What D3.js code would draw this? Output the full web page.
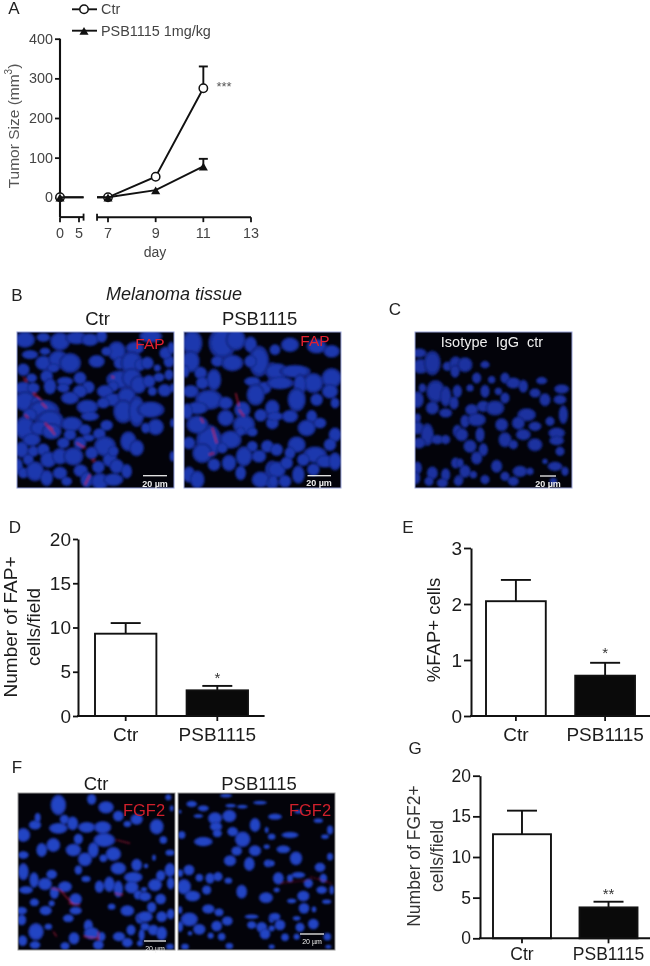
<!DOCTYPE html>
<html><head><meta charset="utf-8">
<script src="https://cdn.jsdelivr.net/npm/d3@7/dist/d3.min.js"></script>
<style>html,body{margin:0;padding:0;background:#fff}svg{display:block;filter:blur(0.3px)}text{font-family:"Liberation Sans",Arial,sans-serif}</style>
</head><body><svg id="c" width="650" height="966"></svg>
<script>
// ---- chart values ----
const days=[0,7,9,11];
const ctrSize=[0,0,52,275];
const psbSize=[0,0,18,78];
const ctrSizeErr=[null,null,null,330];
const psbSizeErr=[null,null,null,97];
const groups=["Ctr","PSB1115"];
const fapCount=[9.3,2.9], fapCountTop=[10.5,3.4];
const fapPct=[2.05,0.72], fapPctTop=[2.43,0.95];
const fgfCount=[12.8,3.8], fgfCountTop=[15.7,4.5];

const b1a=[[45,35,22,18],[100,28,15,10],[150,40,22,20],[200,30,25,14],[240,35,20,14],[275,25,12,14],[320,70,20,22],[290,70,12,10],[375,60,20,14],[40,125,14,14],[105,70,12,8],[60,80,18,10],[100,105,18,16],[145,95,22,20],[180,105,24,22],[130,120,14,10],[260,100,18,14],[330,105,14,14],[365,105,24,26],[390,110,12,14],[330,155,30,20],[365,150,22,22],[385,170,18,20],[310,175,12,12],[110,145,14,14],[65,150,12,10],[40,180,20,14],[70,180,14,12],[120,175,14,18],[165,160,18,10],[210,150,14,14],[235,178,14,14],[210,190,16,14],[160,180,14,10],[180,210,20,14],[45,220,24,22],[80,225,14,14],[232,237,24,16],[285,190,18,14],[310,215,22,14],[280,225,14,12],[350,205,20,20],[340,250,22,26],[380,250,18,34],[240,265,20,10],[100,250,35,25],[120,280,30,25],[60,260,16,14],[45,300,22,26],[90,300,22,16],[185,288,24,16],[125,310,22,18],[225,305,14,12],[268,317,14,12],[290,292,14,12],[235,330,14,8],[355,340,18,22],[380,360,16,18],[285,355,24,22],[35,365,15,18],[70,370,12,12],[100,365,14,14],[65,335,20,14],[180,320,14,12],[160,345,14,12],[210,345,14,14],[115,395,18,18],[150,385,18,18],[190,385,22,20],[245,375,14,14],[55,395,12,12],[25,415,10,18],[40,435,12,12],[75,430,20,22],[110,450,14,18],[150,435,16,14],[212,428,16,14],[265,417,14,14],[300,395,16,16],[320,415,16,16],[310,370,12,12],[350,430,12,16],[230,455,14,18],[270,460,20,18],[310,455,22,14],[170,460,12,10]];
const b1b=[[10,105,14,14],[45,148,12,10],[75,140,10,12],[15,160,14,14],[62,187,15,14],[25,190,10,10],[20,245,30,18],[35,297,18,18],[75,100,12,14],[65,75,14,14],[40,120,8,8],[82,60,8,14],[85,180,5,10],[20,25,25,14],[85,385,6,12],[5,300,10,12],[85,285,5,10]];
const b2a=[[145,45,22,28],[140,100,20,24],[125,130,8,14],[170,135,14,14],[235,45,30,34],[275,35,22,24],[220,100,14,12],[265,105,24,18],[320,50,14,18],[345,100,22,34],[320,100,14,14],[385,130,14,20],[325,160,18,10],[360,180,16,14],[210,155,16,24],[175,165,14,14],[140,190,18,14],[195,215,30,22],[245,225,16,14],[335,200,20,24],[295,245,18,18],[350,262,14,14],[385,240,16,18],[160,240,24,14],[130,250,12,18],[245,270,18,18],[300,290,24,22],[325,312,12,10],[195,340,28,36],[160,290,24,20],[175,375,22,22],[135,345,14,14],[260,335,24,20],[290,310,10,10],[325,355,12,12],[370,355,14,14],[345,385,16,14],[300,385,18,22],[255,405,16,18],[210,410,14,14],[135,440,14,18],[160,455,16,20],[290,435,12,16],[350,455,20,18],[385,425,16,20],[385,465,14,14],[235,360,12,12],[385,285,14,14]];
const b2b=[[15,65,12,12],[60,50,20,16],[140,55,22,16],[185,70,18,14],[20,130,26,18],[75,130,34,14],[130,165,22,22],[185,150,22,22],[90,170,14,24],[30,165,30,14],[80,215,20,26],[140,215,14,14],[180,190,18,16],[15,265,18,10],[60,265,18,14],[125,265,12,14],[195,225,10,12],[110,300,20,18],[150,285,14,12],[195,320,14,16],[80,350,20,18],[135,380,26,18],[180,350,14,14],[20,365,14,14],[60,375,12,14],[100,395,14,14],[20,425,20,18],[50,405,14,14],[165,400,20,14],[85,440,14,20],[10,460,10,14],[45,460,14,14],[195,400,14,20],[130,425,14,14]];
const ca=[[270,75,16,10],[275,115,18,16],[310,105,18,26],[355,115,10,10],[380,110,14,18],[265,215,14,18],[280,180,8,10],[320,190,20,24],[310,240,14,14],[350,205,12,22],[375,225,10,14],[350,255,14,10],[385,190,10,14],[265,270,8,10],[265,300,14,14],[295,320,14,24],[325,335,14,10],[270,345,14,12],[350,335,10,10],[385,310,10,14],[265,420,10,14],[310,435,12,14],[260,450,10,14],[350,440,10,14],[380,405,10,12],[340,465,12,10],[390,455,10,10],[300,460,10,10]];
const cb=[[30,110,16,16],[90,110,10,8],[0,130,10,14],[65,150,10,12],[110,155,8,8],[150,150,10,12],[175,165,16,12],[205,175,10,14],[260,158,12,8],[320,183,16,10],[90,190,10,14],[45,180,8,8],[130,190,8,8],[150,210,10,12],[240,195,12,10],[270,215,12,14],[315,215,14,10],[50,245,14,12],[85,235,14,12],[120,240,20,16],[30,280,10,14],[65,275,20,14],[215,260,20,14],[140,290,14,14],[190,285,14,14],[240,295,14,10],[285,280,10,10],[325,260,10,20],[20,320,14,14],[75,320,10,16],[150,335,14,16],[205,320,16,12],[240,350,16,14],[305,315,18,12],[305,338,16,10],[45,355,14,14],[85,365,10,14],[175,350,10,10],[315,370,10,10],[65,390,12,14],[15,405,8,10],[125,415,12,14],[195,430,16,12],[300,415,16,10],[270,400,6,6],[30,430,12,14],[150,445,10,10],[90,455,10,10],[175,460,12,10],[225,430,8,8],[330,430,8,10],[10,460,10,10],[295,460,8,8],[55,440,8,8]];
const f1a=[[145,45,20,26],[245,28,12,14],[288,52,20,16],[325,78,14,14],[380,88,16,14],[352,102,10,8],[40,135,18,18],[75,105,16,12],[83,83,8,12],[145,115,24,14],[163,88,12,12],[188,100,14,18],[230,112,22,14],[278,112,22,16],[283,150,28,18],[205,147,12,14],[130,165,18,18],[95,180,14,18],[40,195,14,10],[190,180,20,16],[250,180,14,20],[310,192,20,18],[225,208,18,18],[205,240,10,12],[280,205,10,10],[40,245,14,22],[72,270,12,20],[125,253,14,12],[325,235,20,16],[380,225,14,16],[228,267,12,8],[105,282,18,16],[165,290,18,14],[133,308,12,16],[48,300,18,10],[298,283,14,20],[268,290,12,16],[325,297,12,22],[370,262,24,14],[365,292,18,16],[385,315,12,12],[197,328,16,16],[73,337,12,10],[35,362,14,10],[107,362,16,12],[197,362,16,10],[305,350,10,8],[352,362,18,14],[35,390,12,14],[175,385,14,10],[390,385,12,14],[363,420,12,14],[78,425,20,22],[115,410,10,8],[235,407,12,16],[245,430,20,16],[192,445,14,16],[275,440,10,12],[327,440,16,12],[38,452,12,14],[352,458,14,12],[265,465,14,12],[75,465,14,10],[165,468,12,10],[390,460,8,8],[125,340,8,8]];
const f1b=[[50,110,18,20],[70,150,10,10],[90,188,12,8],[42,203,5,8],[18,228,6,6],[90,240,14,18],[62,257,12,14],[45,285,18,16],[92,280,10,16],[12,298,8,6],[15,320,16,12],[62,327,14,14],[35,352,12,14],[15,380,20,14],[65,380,14,14],[92,372,10,14],[15,410,12,10],[40,420,14,14],[65,430,14,18],[5,435,8,16],[90,470,10,8],[85,22,8,8],[95,55,5,8]];
const f2a=[[258,17,16,5],[155,42,14,8],[190,55,14,8],[272,47,14,5],[307,50,14,5],[360,38,18,5],[120,65,4,5],[175,78,12,5],[225,85,18,16],[268,78,18,16],[228,110,16,12],[232,130,12,10],[345,105,14,18],[125,135,10,10],[190,155,24,12],[278,125,14,12],[308,148,20,20],[345,182,16,14],[290,183,14,12],[380,120,5,8],[380,170,8,6],[270,212,16,14],[328,222,14,18],[385,220,12,10],[147,240,14,14],[120,250,8,10],[178,263,10,10],[210,265,12,14],[234,260,12,12],[265,272,10,8],[132,290,18,20],[200,300,12,12],[158,318,20,14],[305,305,14,18],[378,323,18,14],[205,357,16,12],[237,367,12,10],[120,360,6,10],[262,393,14,12],[148,388,22,18],[335,380,18,6],[335,405,12,10],[365,412,14,14],[120,410,8,14],[178,418,16,14],[230,408,14,14],[212,437,8,8],[245,440,10,10],[375,432,14,14],[135,470,10,8],[268,468,10,8],[150,430,6,6],[395,385,8,12],[395,470,8,6]];
const f2b=[[15,80,18,8],[5,140,10,8],[85,65,10,5],[145,92,12,6],[60,135,22,8],[165,140,10,6],[40,178,18,10],[78,205,16,18],[180,120,8,12],[180,200,8,10],[150,232,14,12],[25,265,14,16],[5,220,8,8],[85,255,18,8],[115,280,12,12],[160,265,10,12],[60,265,8,10],[155,300,14,10],[185,300,6,12],[100,318,16,14],[20,300,8,6],[65,333,12,6],[170,335,12,6],[102,355,14,14],[15,380,14,10],[132,358,6,8],[130,402,14,14],[30,405,14,14],[80,385,10,6],[90,412,12,12],[45,442,10,10],[172,440,10,10],[5,415,8,8],[80,440,8,8],[175,470,8,5]];
const redB1=[[70,195,95,215],[95,225,110,240],[105,285,135,320],[115,295,130,305],[200,345,225,360],[245,400,255,395],[40,150,50,160],[45,260,55,270],[305,145,312,150],[225,470,240,440]];
const redB2=[[275,195,285,235],[285,245,300,265],[170,270,178,285],[205,300,218,345],[195,380,210,375]];
const redF1=[[125,295,150,300],[150,300,190,345],[175,340,210,345],[220,440,265,445],[265,425,265,450],[130,425,140,440],[315,310,340,315],[320,150,360,160]];
const redF2=[[30,280,120,270],[120,260,185,280]];

const svg=d3.select("#c");
const defs=svg.append("defs");
defs.append("filter").attr("id","soft").attr("x","-5%").attr("y","-5%").attr("width","110%").attr("height","110%")
  .append("feGaussianBlur").attr("stdDeviation",0.8);
function grad(id,a,b){
  const g=defs.append("radialGradient").attr("id",id);
  g.append("stop").attr("offset","0%").attr("stop-color",a);
  g.append("stop").attr("offset","65%").attr("stop-color",a);
  g.append("stop").attr("offset","100%").attr("stop-color",b);
}
grad("nb","#1c38ae","#10227a");
grad("nc","#1a32a0","#0f1e6c");
grad("nf","#2444c4","#142a88");
const ink="#1c1c1c";

function label(x,y,t,size,opt={}){
  const s=svg.append("text").attr("x",x).attr("y",y).attr("text-anchor",opt.anchor||"middle")
    .attr("dominant-baseline","central").attr("font-size",size).attr("fill",opt.fill||ink).text(t);
  if(opt.italic)s.attr("font-style","italic");
  if(opt.weight)s.attr("font-weight",opt.weight);
  if(opt.rotate)s.attr("transform",`rotate(${opt.rotate} ${x} ${y})`);
  return s;
}

// ---- Panel A ----
const yA=d3.scaleLinear().domain([0,400]).range([197.3,38.7]);
const yABottom=-50;
const xA1=d3.scaleLinear().domain([0,5]).range([60,79]);
const xA2=d3.scaleLinear().domain([7,13]).range([108,251]);
const xA=d=>d<=6.2?xA1(d):xA2(d);
const seg1End=6.2, seg2Start=6.54;
const gA=svg.append("g").attr("stroke","#111").attr("fill","none");
gA.append("g").attr("transform","translate(60,0)")
  .call(d3.axisLeft(yA).tickValues([0,100,200,300,400]).tickSize(5).tickSizeOuter(0))
  .call(g=>{g.select(".domain").remove();g.selectAll("line").attr("stroke-width",1.8).attr("stroke","#111");
    g.selectAll("text").attr("font-size",14.4).attr("fill","#444").attr("stroke","none").attr("x",-7);});
gA.append("line").attr("x1",60).attr("x2",60).attr("y1",yA(400)).attr("y2",yA(yABottom)).attr("stroke-width",2.1);
const baseY=yA(yABottom);
gA.append("line").attr("x1",xA1(0)).attr("x2",xA1(seg1End)).attr("y1",baseY).attr("y2",baseY).attr("stroke-width",2);
gA.append("line").attr("x1",xA2(seg2Start)).attr("x2",xA2(13)).attr("y1",baseY).attr("y2",baseY).attr("stroke-width",2);
[0,5].forEach(d=>{gA.append("line").attr("x1",xA1(d)).attr("x2",xA1(d)).attr("y1",baseY).attr("y2",baseY+5).attr("stroke-width",1.8);
  label(xA1(d),232.7,d,14.4,{fill:"#444"});});
[7,9,11,13].forEach(d=>{gA.append("line").attr("x1",xA2(d)).attr("x2",xA2(d)).attr("y1",baseY).attr("y2",baseY+5).attr("stroke-width",1.8);
  label(xA2(d),232.7,d,14.4,{fill:"#444"});});
[xA1(seg1End),xA2(seg2Start)].forEach(x=>gA.append("line").attr("x1",x).attr("x2",x).attr("y1",baseY-3.5).attr("y2",baseY+3.5).attr("stroke-width",1.8));

const lineA=d3.line().x(d=>d[0]).y(d=>yA(d[1]));
function series(vals,tops,marker){
  const gs=svg.append("g");
  gs.append("path").attr("d",lineA([[xA(days[0]),vals[0]],[xA1(seg1End),vals[0]]])).attr("fill","none").attr("stroke","#111").attr("stroke-width",1.9);
  gs.append("path").attr("d",lineA([[xA2(seg2Start),vals[1]]].concat(days.slice(1).map((d,i)=>[xA2(d),vals[i+1]])))).attr("fill","none").attr("stroke","#111").attr("stroke-width",1.9);
  days.forEach((d,i)=>{
    if(tops[i]!=null){
      gs.append("line").attr("x1",xA(d)).attr("x2",xA(d)).attr("y1",yA(vals[i])).attr("y2",yA(tops[i])).attr("stroke","#111").attr("stroke-width",1.9);
      gs.append("line").attr("x1",xA(d)-4.5).attr("x2",xA(d)+4.5).attr("y1",yA(tops[i])).attr("y2",yA(tops[i])).attr("stroke","#111").attr("stroke-width",1.9);
    }
  });
  days.forEach((d,i)=>marker(gs,xA(d),yA(vals[i])));
}
const circ=(g,x,y)=>g.append("circle").attr("cx",x).attr("cy",y).attr("r",4.2).attr("fill","#fff").attr("stroke","#111").attr("stroke-width",1.5);
const tri=(g,x,y)=>g.append("path").attr("transform",`translate(${x},${y+1.5})`).attr("d",d3.symbol(d3.symbolTriangle,36)()).attr("fill","#111");
series(ctrSize,ctrSizeErr,circ);
series(psbSize,psbSizeErr,tri);
[[9.3,circ,"Ctr"],[30.7,tri,"PSB1115 1mg/kg"]].forEach(([y,m,t])=>{
  svg.append("line").attr("x1",72).attr("x2",97).attr("y1",y).attr("y2",y).attr("stroke","#111").attr("stroke-width",1.9);
  m(svg,84,y);
  label(101,y,t,14.4,{anchor:"start",fill:"#444"});
});
label(14,8,"A",17,{fill:"#222"});
label(224,86,"***",13,{fill:"#555"});
label(155,252,"day",14,{fill:"#444"});
const yl=svg.append("text").attr("transform","translate(13,126) rotate(-90)").attr("text-anchor","middle").attr("dominant-baseline","central")
  .attr("font-size",15.5).attr("fill","#555");
yl.append("tspan").text("Tumor Size (mm");
yl.append("tspan").attr("font-size",10).attr("dy",-5).text("3");
yl.append("tspan").attr("dy",5).text(")");

// ---- Micrographs ----
function micro(id,x0,x1,y0,y1,crops,reds,fill,border,grow){
  const clip=defs.append("clipPath").attr("id",id);
  clip.append("rect").attr("x",x0).attr("y",y0).attr("width",x1-x0).attr("height",y1-y0);
  svg.append("rect").attr("x",x0).attr("y",y0).attr("width",x1-x0).attr("height",y1-y0).attr("fill","#03030a");
  const g=svg.append("g").attr("clip-path",`url(#${id})`).append("g").attr("filter","url(#soft)");
  crops.forEach(([list,ox,oy])=>{
    const sx=d3.scaleLinear().domain([0,3]).range([ox,ox+1]);
    const sy=d3.scaleLinear().domain([0,3]).range([oy,oy+1]);
    g.selectAll(null).data(list).enter().append("ellipse")
      .attr("cx",d=>sx(d[0])).attr("cy",d=>sy(d[1])).attr("rx",d=>d[2]/3*grow).attr("ry",d=>d[3]/3*grow).attr("fill",`url(#${fill})`);
  });
  reds.forEach(([list,ox,oy,op])=>{
    const sx=d3.scaleLinear().domain([0,3]).range([ox,ox+1]);
    const sy=d3.scaleLinear().domain([0,3]).range([oy,oy+1]);
    g.selectAll(null).data(list).enter().append("line")
      .attr("x1",d=>sx(d[0])).attr("y1",d=>sy(d[1])).attr("x2",d=>sx(d[2])).attr("y2",d=>sy(d[3]))
      .attr("stroke","#d8204a").attr("stroke-width",1.2).attr("stroke-opacity",op);
  });
  svg.append("rect").attr("x",x0).attr("y",y0).attr("width",x1-x0).attr("height",y1-y0).attr("fill","none").attr("stroke",border).attr("stroke-width",1);
}
function scale(x1,x2,y,tx,ty,size){
  svg.append("line").attr("x1",x1).attr("x2",x2).attr("y1",y).attr("y2",y).attr("stroke","#eee").attr("stroke-width",1.3);
  label(tx,ty,"20 µm",size,{fill:"#eee",weight:size>8?"bold":null});
}
micro("pb1",17,174,332,488,[[b1a,10,328],[b1b,144,328]],[[redB1,10,328,.8]],"nb","#8f9bd8",1.4);
micro("pb2",184,341,332,488,[[b2a,144,328],[b2b,270,328]],[[redB2,144,328,.8]],"nb","#9aa3d8",1.4);
micro("pc",415,572,332,488,[[ca,329,328],[cb,455,328]],[],"nc","#9aa3d8",1.45);
micro("pf1",18,175,793,950,[[f1a,10,790],[f1b,140,790]],[[redF1,10,790,.6]],"nf","#999",1.2);
micro("pf2",178,335,793,950,[[f2a,140,790],[f2b,270,790]],[[redF2,270,790,.3]],"nf","#999",1.2);

label(17,295,"B",17,{fill:"#222"});
label(174,294,"Melanoma tissue",18,{italic:true});
label(97.5,318,"Ctr",18.5);
label(259.6,318,"PSB1115",18.5);
label(395,309,"C",17,{fill:"#222"});
label(150,343,"FAP",15.5,{fill:"#e02030"});
label(315,340,"FAP",15.5,{fill:"#e02030"});
label(492,342,"Isotype  IgG  ctr",14.5,{fill:"#eee"}).style("white-space","pre");
scale(143,167,475.7,155,484,9);
scale(307.5,331,475.7,319,483,9);
scale(540,556,476,548,484,9);
label(17,767,"F",17,{fill:"#222"});
label(96,783,"Ctr",18.5);
label(259,783,"PSB1115",18.5);
label(144,810,"FGF2",16.5,{fill:"#d0202c"});
label(310,810,"FGF2",16.5,{fill:"#d0202c"});
scale(144,166,941,155,948,7);
scale(300,324,934,312,941,7);

// ---- Bar panels ----
function barPanel(o){
  const y=d3.scaleLinear().domain([0,o.max]).range([o.y0,o.yTop]);
  const x=d3.scaleBand().domain(groups).range(o.barRange).paddingInner(0.33).paddingOuter(0);
  const g=svg.append("g");
  groups.forEach((c,i)=>{
    const cx=x(c)+x.bandwidth()/2;
    g.append("line").attr("x1",cx).attr("x2",cx).attr("y1",y(o.vals[i])).attr("y2",y(o.tops[i])).attr("stroke","#111").attr("stroke-width",1.9);
    g.append("line").attr("x1",cx-15).attr("x2",cx+15).attr("y1",y(o.tops[i])).attr("y2",y(o.tops[i])).attr("stroke","#111").attr("stroke-width",1.9);
  });
  g.selectAll("rect").data(groups).enter().append("rect")
    .attr("x",c=>x(c)).attr("width",x.bandwidth())
    .attr("y",(c,i)=>y(o.vals[i])).attr("height",(c,i)=>o.y0-y(o.vals[i]))
    .attr("fill",(c,i)=>i?"#0a0a0a":"#fff").attr("stroke","#111").attr("stroke-width",1.9);
  g.append("g").attr("transform",`translate(${o.axisX},0)`)
    .call(d3.axisLeft(y).tickValues(o.ticks).tickFormat(d3.format("d")).tickSize(o.tick).tickSizeOuter(0))
    .call(a=>{a.select(".domain").attr("stroke","#111").attr("stroke-width",2);a.selectAll("line").attr("stroke","#111").attr("stroke-width",1.8);
      a.selectAll("text").attr("font-size",o.font).attr("fill",ink).attr("x",-o.tick-2);});
  g.append("line").attr("x1",o.axisX-1).attr("x2",o.xEnd).attr("y1",o.y0).attr("y2",o.y0).attr("stroke","#111").attr("stroke-width",2);
  groups.forEach(c=>{
    const cx=x(c)+x.bandwidth()/2;
    g.append("line").attr("x1",cx).attr("x2",cx).attr("y1",o.y0).attr("y2",o.y0+5).attr("stroke","#111").attr("stroke-width",1.8);
    label(cx,o.labelY,c,o.font);
  });
  label(x(groups[1])+x.bandwidth()/2,o.starY,o.star,o.starSize||15,{fill:"#333"});
  o.ylabels.forEach(([t,tx])=>label(tx,o.ylabelY,t,o.ylabelFont,{rotate:-90,fill:o.ylabelFill||ink}));
}
label(15,527,"D",17,{fill:"#222"});
barPanel({vals:fapCount,tops:fapCountTop,max:20,ticks:[0,5,10,15,20],y0:716,yTop:539,axisX:78,xEnd:264.6,barRange:[95,248],tick:5,font:19,labelY:734,star:"*",starY:677,ylabels:[["Number of FAP+",10],["cells/field",33]],ylabelY:627,ylabelFont:19});
label(408,527,"E",17,{fill:"#222"});
barPanel({vals:fapPct,tops:fapPctTop,max:3,ticks:[0,1,2,3],y0:716,yTop:548,axisX:471,xEnd:650,barRange:[486,635],tick:7,font:19,labelY:734,star:"*",starY:652,ylabels:[["%FAP+ cells",433]],ylabelY:630,ylabelFont:18.5});
label(415,748,"G",17,{fill:"#222"});
barPanel({vals:fgfCount,tops:fgfCountTop,max:20,ticks:[0,5,10,15,20],y0:938.3,yTop:775.7,axisX:480,xEnd:650,barRange:[493,637.5],tick:7,font:17.5,labelY:954,star:"**",starY:893,ylabels:[["Number of FGF2+",414],["cells/field",437]],ylabelY:856,ylabelFont:17.5,ylabelFill:"#333"});
</script></body></html>
